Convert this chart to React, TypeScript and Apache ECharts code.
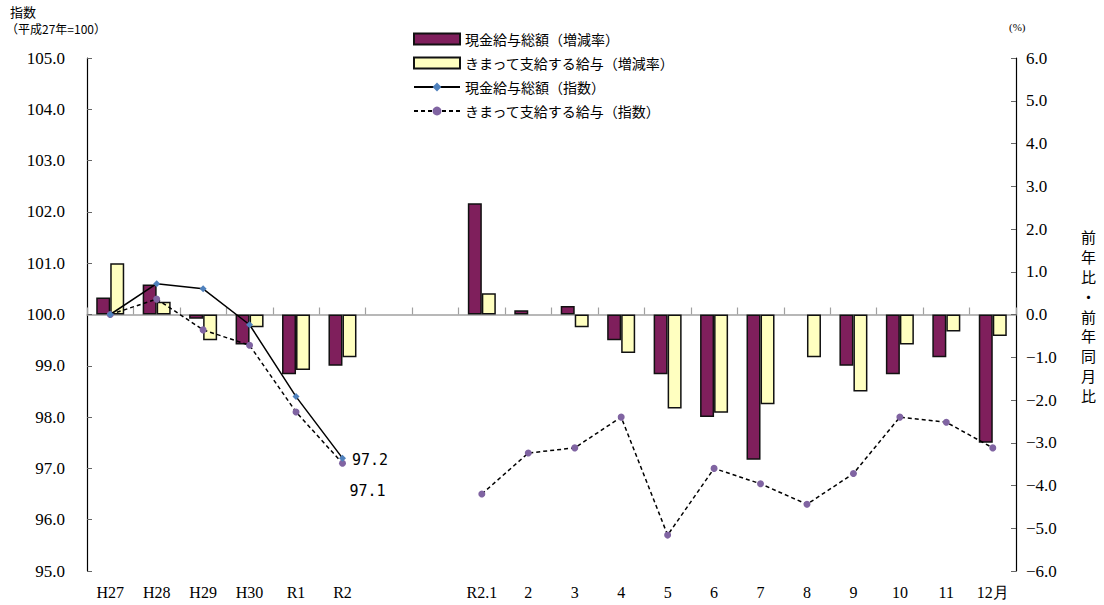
import React, { useEffect, useRef } from "react";
import * as echarts from "echarts";

const categories = ["H27", "H28", "H29", "H30", "R1", "R2", "", " ", "R2.1", "2", "3", "4", "5", "6", "7", "8", "9", "10", "11", "12月"];

// 増減率 (%), right axis
const totalPayRate = [0.4, 0.7, -0.1, -0.7, -1.4, -1.2, null, null, 2.6, 0.1, 0.2, -0.6, -1.4, -2.4, -3.4, null, -1.2, -1.4, -1.0, -3.0];
const regularPayRate = [1.2, 0.3, -0.6, -0.3, -1.3, -1.0, null, null, 0.5, null, -0.3, -0.9, -2.2, -2.3, -2.1, -1.0, -1.8, -0.7, -0.4, -0.5];

// 指数 (平成27年=100), left axis
const totalPayIndex = [100.0, 100.6, 100.5, 99.8, 98.4, 97.2, null, null, null, null, null, null, null, null, null, null, null, null, null, null];
const regularPayIndex = [100.0, 100.3, 99.7, 99.4, 98.1, 97.1, null, null, 96.5, 97.3, 97.4, 98.0, 95.7, 97.0, 96.7, 96.3, 96.9, 98.0, 97.9, 97.4];

const leftTicks = { min: 95, max: 105, interval: 1 };
const rightTicks = { min: -6, max: 6, interval: 1 };

const SERIF = "Liberation Serif";
const CJK = "Noto Sans CJK JP";

export default function App() {
  const ref = useRef<HTMLDivElement>(null);
  useEffect(() => {
    if (!ref.current) return;
    const chart = echarts.init(ref.current, null, { renderer: "svg" });
    const lastIdx = 5;
    const option: any = {
      animation: false,
      backgroundColor: "#ffffff",
      grid: { left: 87, right: 88, top: 58, bottom: 34, containLabel: false },
      legend: {
        orient: "vertical",
        left: 408,
        top: 27,
        itemGap: 10,
        itemWidth: 46,
        itemHeight: 11,
        textStyle: { fontFamily: CJK, fontSize: 14, color: "#000" },
        data: [
          { name: "現金給与総額（増減率）", icon: "rect" },
          { name: "きまって支給する給与（増減率）", icon: "rect" },
          { name: "現金給与総額（指数）" },
          { name: "きまって支給する給与（指数）" },
        ],
      },
      xAxis: [
        {
          type: "category",
          data: categories,
          position: "bottom",
          axisLine: { show: false },
          axisTick: { show: false },
          axisLabel: { fontFamily: SERIF, fontSize: 16, color: "#000", margin: 13, interval: 0 },
        },
        {
          type: "category",
          data: categories,
          position: "bottom",
          axisLine: { show: true, onZero: true, onZeroAxisIndex: 1, lineStyle: { color: "#a0a0a0", width: 1.5 } },
          axisTick: { show: true, inside: true, length: 7, interval: 0, lineStyle: { color: "#a0a0a0", width: 1.2 } },
          axisLabel: { show: false },
          splitLine: { show: false },
        },
      ],
      yAxis: [
        {
          type: "value",
          position: "left",
          min: leftTicks.min,
          max: leftTicks.max,
          interval: leftTicks.interval,
          axisLine: { show: true, lineStyle: { color: "#000", width: 1.2 } },
          axisTick: { show: true, inside: true, length: 5, lineStyle: { color: "#666" } },
          splitLine: { show: false },
          axisLabel: { fontFamily: SERIF, fontSize: 17, color: "#000", margin: 22, formatter: (v: number) => v.toFixed(1) },
        },
        {
          type: "value",
          position: "right",
          min: rightTicks.min,
          max: rightTicks.max,
          interval: rightTicks.interval,
          axisLine: { show: true, lineStyle: { color: "#000", width: 1.2 } },
          axisTick: { show: true, inside: true, length: 5, lineStyle: { color: "#666" } },
          splitLine: { show: false },
          axisLabel: {
            fontFamily: SERIF,
            fontSize: 17,
            color: "#000",
            margin: 10,
            formatter: (v: number) => (v < 0 ? "\u2212" + Math.abs(v).toFixed(1) : v.toFixed(1)),
          },
        },
      ],
      series: [
        {
          name: "現金給与総額（増減率）",
          type: "bar",
          xAxisIndex: 0,
          yAxisIndex: 1,
          data: totalPayRate,
          barWidth: 14,
          barGap: "0%",
          itemStyle: { color: "#7f1f5c", borderColor: "#111", borderWidth: 1.5 },
        },
        {
          name: "きまって支給する給与（増減率）",
          type: "bar",
          xAxisIndex: 0,
          yAxisIndex: 1,
          data: regularPayRate,
          barWidth: 14,
          barGap: "0%",
          itemStyle: { color: "#ffffc0", borderColor: "#111", borderWidth: 1.5 },
        },
        {
          name: "現金給与総額（指数）",
          type: "line",
          xAxisIndex: 0,
          yAxisIndex: 0,
          data: totalPayIndex.map((v, i) =>
            i === lastIdx
              ? {
                  value: v,
                  label: {
                    show: true,
                    position: "right",
                    distance: 6,
                    offset: [0, 2],
                    formatter: (p: any) => p.value.toFixed(1),
                    fontFamily: "DejaVu Sans Mono",
                    fontSize: 15,
                    color: "#000",
                  },
                }
              : v
          ),
          connectNulls: false,
          symbol: "diamond",
          symbolSize: 7,
          z: 5,
          itemStyle: { color: "#4f81bd" },
          lineStyle: { color: "#000", width: 1.5, type: "solid" },
        },
        {
          name: "きまって支給する給与（指数）",
          type: "line",
          xAxisIndex: 0,
          yAxisIndex: 0,
          data: regularPayIndex.map((v, i) =>
            i === lastIdx
              ? {
                  value: v,
                  label: {
                    show: true,
                    position: "bottom",
                    distance: 8,
                    offset: [25, 9],
                    formatter: (p: any) => p.value.toFixed(1),
                    fontFamily: "DejaVu Sans Mono",
                    fontSize: 15,
                    color: "#000",
                  },
                }
              : v
          ),
          connectNulls: false,
          symbol: "circle",
          symbolSize: 7,
          z: 4,
          itemStyle: { color: "#8064a2" },
          lineStyle: { color: "#000", width: 1.5, type: [4, 3] },
        },
      ],
      graphic: [
        { type: "text", left: 10, top: 5, style: { text: "指数", fontFamily: CJK, fontSize: 13, fill: "#000" } },
        { type: "text", left: 6, top: 22, style: { text: "（平成27年=100）", fontFamily: CJK, fontSize: 12, fill: "#000" } },
        { type: "text", left: 1009, top: 21, style: { text: "(%)", fontFamily: SERIF, fontSize: 11, fill: "#000" } },
        {
          type: "text",
          left: 1081,
          top: 227,
          style: { text: "前\n年\n比\n・\n前\n年\n同\n月\n比", fontFamily: CJK, fontSize: 15, lineHeight: 19.8, fill: "#000" },
        },
      ],
    };
    chart.setOption(option);
    return () => chart.dispose();
  }, []);
  return <div ref={ref} style={{ position: "fixed", left: 0, top: 0, width: 1104, height: 605 }} />;
}
